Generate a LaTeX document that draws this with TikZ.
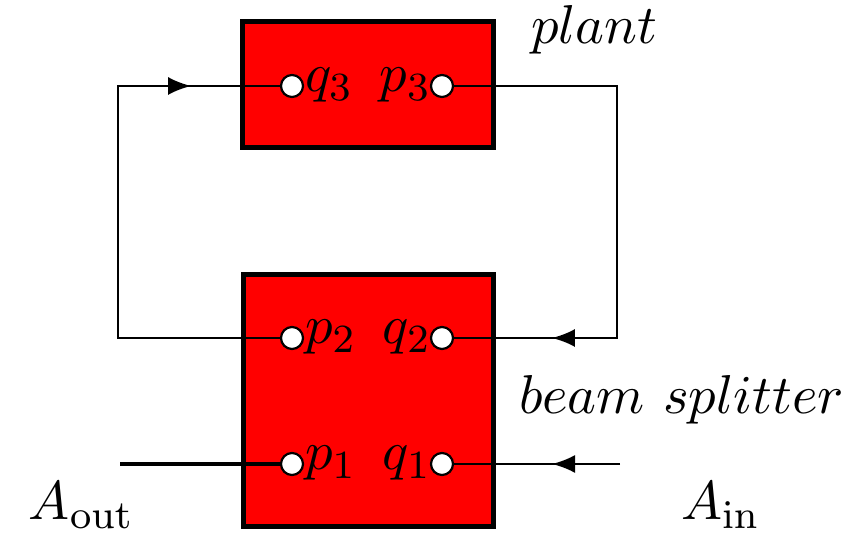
\documentclass[tikz,border=0pt]{standalone}
\usetikzlibrary{arrows.meta,decorations.markings}
\tikzset{
  blockbox/.style={draw=black, line width=1pt, fill=red},
  port/.style={circle, draw=black, line width=0.44pt, fill=white, minimum size=4.4pt, inner sep=0pt},
  wire/.style={draw=black, line width=0.48pt},
  lbl/.style={inner sep=0pt, font=\fontsize{10.95}{13}\selectfont},
  arrowat/.style={postaction={decorate}, decoration={markings, mark=at position #1 with {\arrow{Latex[length=4.6pt,width=3.6pt]}}}}
}
\begin{document}
\begin{tikzpicture}[x=0.2pt,y=-0.2pt]
\useasboundingbox (0,0) rectangle (854,542);
% boxes
\path[blockbox] (242,22) rectangle (493,148);
\path[blockbox] (243,275) rectangle (493,527);
% ports
\node[port] (q3) at (292,86) {};
\node[port] (p3) at (442,86) {};
\node[port] (p2) at (292,338) {};
\node[port] (q2) at (442,338) {};
\node[port] (p1) at (292,464) {};
\node[port] (q1) at (442,464) {};
% corner / end coordinates
\coordinate (lt) at (118,86);
\coordinate (lb) at (118,338);
\coordinate (rt) at (617,86);
\coordinate (rb) at (617,338);
\coordinate (outend) at (120,464);
\coordinate (inend) at (620,464);
% wires
\draw[wire, arrowat=97.4pt] (p2.west) -- (lb) -- (lt) -- (q3.west);
\draw[wire, arrowat=96pt] (p3.east) -- (rt) -- (rb) -- (q2.east);
\draw[wire, arrowat=13.6pt] (inend) -- (q1.east);
\draw[draw=black, line width=0.8pt] (outend) -- (p1.west);
% labels
\node[lbl, anchor=base west] (lq3) at (304,92) {$q_3$};
\node[lbl, anchor=base east] (lp3) at (432,92) {$p_3$};
\node[lbl, anchor=base west] (lp2) at (304,344) {$p_2$};
\node[lbl, anchor=base east] (lq2) at (432,344) {$q_2$};
\node[lbl, anchor=base west] (lp1) at (304,470) {$p_1$};
\node[lbl, anchor=base east] (lq1) at (432,470) {$q_1$};
\node[lbl, anchor=base west] (plant) at (530,44) {$plant$};
\node[lbl, anchor=base west] (bs) at (518,414) {$beam\ splitter$};
\node[lbl, anchor=base west] (aout) at (28,520) {$A_{\mathrm{out}}$};
\node[lbl, anchor=base west] (ain) at (680,520) {$A_{\mathrm{in}}$};
\end{tikzpicture}
\end{document}
